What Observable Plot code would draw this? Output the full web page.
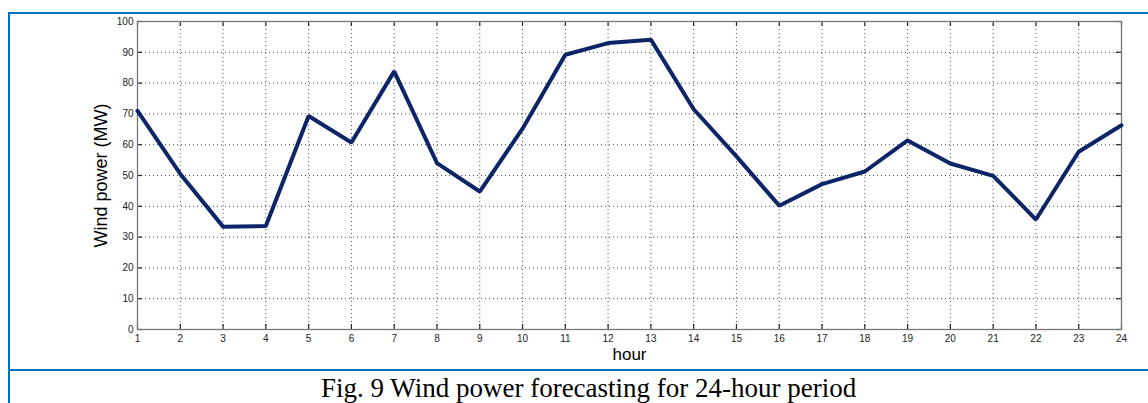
<!DOCTYPE html>
<html>
<head>
<meta charset="utf-8">
<script src="https://cdn.jsdelivr.net/npm/d3@7"></script>
<script src="https://cdn.jsdelivr.net/npm/@observablehq/plot@0.6"></script>
<style>
  html, body { margin: 0; padding: 0; background: #fff; }
  #wrap { position: relative; width: 1148px; height: 403px; overflow: hidden; }
  #chart { position: absolute; left: 0; top: 0; }
  .frame-top { position: absolute; left: 9px; top: 12px; width: 1139px; height: 0; border-top: 2px solid #0070c0; }
  .frame-mid { position: absolute; left: 9px; top: 369px; width: 1139px; height: 0; border-top: 2px solid #0070c0; }
  .frame-left { position: absolute; left: 8px; top: 12px; width: 0; height: 391px; border-left: 2px solid #0070c0; }
  #caption { position: absolute; left: 321px; top: 373px; line-height: 30px;
    font-family: "Liberation Serif", "Times New Roman", serif; font-size: 27px; color: #000; white-space: nowrap; }
</style>
</head>
<body>
<div id="wrap">
  <div id="chart"></div>
  <div class="frame-top"></div>
  <div class="frame-mid"></div>
  <div class="frame-left"></div>
  <div id="caption">Fig. 9 Wind power forecasting for 24-hour period</div>
</div>
<script>
const hours = [1,2,3,4,5,6,7,8,9,10,11,12,13,14,15,16,17,18,19,20,21,22,23,24];
const power = [71,50.5,33.4,33.6,69.3,60.7,83.8,54,44.8,65.2,89.2,93,94.1,71.5,56.2,40.2,47.2,51.3,61.4,53.9,49.9,35.7,57.7,66.3];
const yTicks = [0,10,20,30,40,50,60,70,80,90,100];
const xLabel = "hour";
const yLabel = "Wind power (MW)";

const data = hours.map((h, i) => ({hour: h, power: power[i]}));

const chart = Plot.plot({
  width: 1148,
  height: 370,
  marginLeft: 137,
  marginRight: 27,
  marginTop: 21,
  marginBottom: 41,
  style: {fontFamily: "'Liberation Sans', Arial, sans-serif", fontSize: "10px", color: "#222", background: "transparent"},
  x: {domain: [1, 24], ticks: hours, tickSize: 0, tickPadding: 5, label: null},
  y: {domain: [0, 100], ticks: yTicks, tickSize: 0, tickPadding: 4, label: null},
  marks: [
    Plot.gridX(hours, {stroke: "#000", strokeOpacity: 0.7, strokeDasharray: "1,3"}),
    Plot.gridY(yTicks, {stroke: "#000", strokeOpacity: 0.7, strokeDasharray: "1,3"}),
    // inward tick marks (MATLAB style) on all four sides
    Plot.ruleX(hours, {y1: 0, y2: 1.6, stroke: "#222", strokeWidth: 1.2}),
    Plot.ruleX(hours, {y1: 98.4, y2: 100, stroke: "#222", strokeWidth: 1.2}),
    Plot.ruleY(yTicks, {x1: 1, x2: 1.12, stroke: "#222", strokeWidth: 1.2}),
    Plot.ruleY(yTicks, {x1: 23.88, x2: 24, stroke: "#222", strokeWidth: 1.2}),
    Plot.frame({stroke: "#777", strokeWidth: 1.3}),
    Plot.line(data, {x: "hour", y: "power", stroke: "#0d2568", strokeWidth: 4, strokeLinejoin: "miter"}),
    Plot.axisX({ticks: hours, tickSize: 0, tickPadding: 5, label: null}),
    Plot.axisY({ticks: yTicks, tickSize: 0, tickPadding: 4, label: null}),
    Plot.text([xLabel], {frameAnchor: "bottom", dy: 30, fontSize: 17, fill: "#000"}),
    Plot.text([yLabel], {frameAnchor: "left", textAnchor: "middle", dx: -36, rotate: -90, fontSize: 18, fill: "#000"})
  ]
});
document.getElementById("chart").appendChild(chart);
</script>
</body>
</html>
